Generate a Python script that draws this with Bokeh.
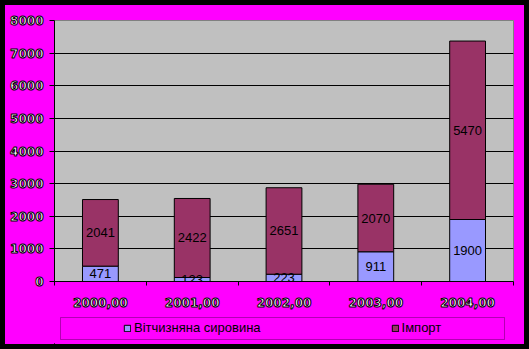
from bokeh.plotting import figure
from bokeh.models import (ColumnDataSource, FixedTicker, Legend, LegendItem,
                          Range1d, BoxAnnotation)
from bokeh.layouts import column
from bokeh.core.properties import value
from bokeh.embed import file_html
from bokeh.resources import INLINE

years = ["2000,00", "2001,00", "2002,00", "2003,00", "2004,00"]
domestic = [471, 123, 223, 911, 1900]
imports = [2041, 2422, 2651, 2070, 5470]
y_ticks = [0, 1000, 2000, 3000, 4000, 5000, 6000, 7000, 8000]
series_names = ["Вітчизняна сировина", "Імпорт"]
colors = ["#9999ff", "#993366"]

x = [i + 0.5 for i in range(len(years))]
src = ColumnDataSource(dict(
    x=x,
    domestic=domestic,
    imports=imports,
    dom_mid=[d / 2 for d in domestic],
    imp_mid=[d + i / 2 for d, i in zip(domestic, imports)],
    dom_txt=[str(d) for d in domestic],
    imp_txt=[str(i) for i in imports],
))

MAGENTA = "#ff00ff"

# ---- main chart ----
p = figure(width=519, height=305, x_range=Range1d(0, len(years)),
           y_range=Range1d(0, y_ticks[-1]),
           output_backend="svg", toolbar_location=None,
           min_border_left=49, min_border_right=11, min_border_top=15,
           min_border_bottom=29,
           background_fill_color="#c0c0c0", border_fill_color=MAGENTA,
           outline_line_color="#808080", outline_line_width=1)

rs = p.vbar_stack(["domestic", "imports"], x="x", width=0.39, source=src,
                  fill_color=colors, line_color="black", line_width=1)

for col, txt in (("dom_mid", "dom_txt"), ("imp_mid", "imp_txt")):
    p.text(x="x", y=col, text=txt, source=src, text_align="center",
           text_baseline="middle", text_font=value("Liberation Sans"),
           text_font_size="13px", text_color="black")

xa = p.xaxis[0]
xa.ticker = FixedTicker(ticks=x, minor_ticks=list(range(len(years) + 1)))
xa.major_label_overrides = {xv: lab for xv, lab in zip(x, years)}
xa.major_tick_out = 0
xa.major_tick_in = 0
xa.minor_tick_out = 4
xa.minor_tick_in = 0
xa.minor_tick_line_color = "black"
xa.major_label_standoff = 12

ya = p.yaxis[0]
ya.ticker = FixedTicker(ticks=y_ticks, minor_ticks=[])
ya.major_tick_out = 5
ya.major_tick_in = 0
ya.major_label_standoff = 6

for ax in (xa, ya):
    ax.axis_line_color = "black"
    ax.major_tick_line_color = "black"
    ax.major_label_text_color = "white"
    ax.major_label_text_font = "DejaVu Sans"
    ax.major_label_text_font_style = "bold"
    ax.major_label_text_font_size = "12px"
    if "major_label_text_outline_color" in ax.properties():
        ax.major_label_text_outline_color = "black"

p.xgrid.visible = False
p.ygrid.grid_line_color = "black"
p.ygrid.grid_line_width = 1

# ---- legend strip (its frame is aligned with the chart frame above) ----
lf = figure(width=519, height=34, x_range=Range1d(0, 459),
            y_range=Range1d(0, 34), x_axis_type=None, y_axis_type=None,
            output_backend="svg", toolbar_location=None,
            min_border=0, min_border_left=0, min_border_right=0,
            min_border_top=0, min_border_bottom=0,
            background_fill_color=MAGENTA, border_fill_color=MAGENTA,
            outline_line_color=None)
lf.xgrid.visible = False
lf.ygrid.visible = False

lf.add_layout(BoxAnnotation(left=6, right=450, bottom=5, top=27,
                            fill_alpha=0, line_color="black", line_width=1))

# legend swatches: renderers kept outside the visible range of the strip
dummy = [lf.vbar(x=[-1000], top=[1], width=1, fill_color=c,
                 line_color="black") for c in colors]

legend = Legend(items=[LegendItem(label=n, renderers=[r])
                       for n, r in zip(series_names, dummy)],
                location=(69, 9), orientation="horizontal", padding=0,
                spacing=130, glyph_width=8, glyph_height=8, label_standoff=3,
                label_height=14,
                label_text_font="Liberation Sans",
                label_text_font_size="13px", label_text_color="black",
                border_line_color=None, background_fill_alpha=0, margin=0)
lf.add_layout(legend)

inner = column(p, lf, spacing=0, margin=(5, 5, 5, 5),
               styles={"background-color": MAGENTA})
layout = column(inner, spacing=0, styles={"background-color": "black"})

open("out.html", "w").write(file_html(layout, INLINE))
